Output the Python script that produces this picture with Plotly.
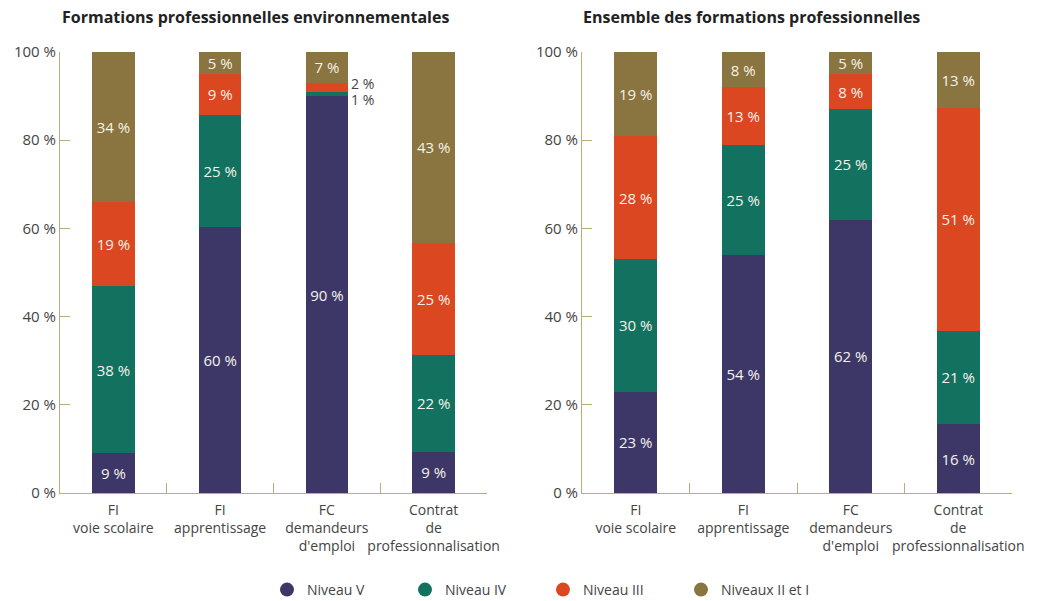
import plotly.graph_objects as go
from plotly.subplots import make_subplots

# Categories (x axis)
categories = ["FI<br>voie scolaire", "FI<br>apprentissage",
              "FC<br>demandeurs<br>d'emploi", "Contrat<br>de<br>professionnalisation"]

levels = ["Niveau V", "Niveau IV", "Niveau III", "Niveaux II et I"]
colors = ["#3d3768", "#12715f", "#db4720", "#8a743f"]

# Formations professionnelles environnementales (% per level)
env_niveau_v = [9, 60.3, 90, 9.4]
env_niveau_iv = [38, 25.4, 1, 21.9]
env_niveau_iii = [19, 9.4, 2, 25.4]
env_niveau_ii_i = [34, 4.9, 7, 43.3]

# Ensemble des formations professionnelles (% per level)
all_niveau_v = [23, 54, 62, 15.6]
all_niveau_iv = [30, 25, 25, 21.2]
all_niveau_iii = [28, 13, 8, 50.6]
all_niveau_ii_i = [19, 8, 5, 12.6]

y_ticks = [0, 20, 40, 60, 80, 100]

titles = ["Formations professionnelles environnementales",
          "Ensemble des formations professionnelles"]

axis_color = "#b8ae7c"
text_color = "#444444"
font_family = "Open Sans, Noto Sans, sans-serif"

fig = make_subplots(rows=1, cols=2)

panels = [
    [env_niveau_v, env_niveau_iv, env_niveau_iii, env_niveau_ii_i],
    [all_niveau_v, all_niveau_iv, all_niveau_iii, all_niveau_ii_i],
]

for col, series in enumerate(panels, start=1):
    for name, vals, color in zip(levels, series, colors):
        # small bands get their label outside, as annotations
        labels = [f"{v:.0f} %" if v >= 3 else "" for v in vals]
        fig.add_trace(go.Bar(
            x=categories, y=vals, name=name,
            marker=dict(color=color, line=dict(width=0)),
            width=0.4,
            text=labels, textposition="inside", insidetextanchor="middle",
            textfont=dict(color="#f5f2ea", size=15, family=font_family),
            showlegend=False, hoverinfo="skip",
        ), row=1, col=col)

# outside labels for tiny bands (FC, environnementales)
fc = 2
base_iv = env_niveau_v[fc]
fig.add_annotation(x=fc, y=base_iv + env_niveau_iv[fc] + env_niveau_iii[fc] / 2,
                   xref="x", yref="y", text=f"{env_niveau_iii[fc]:.0f} %",
                   showarrow=False, xanchor="left", xshift=22, yshift=4,
                   font=dict(size=14, color=text_color, family=font_family))
fig.add_annotation(x=fc, y=base_iv + env_niveau_iv[fc] / 2,
                   xref="x", yref="y", text=f"{env_niveau_iv[fc]:.0f} %",
                   showarrow=False, xanchor="left", xshift=22, yshift=-6,
                   font=dict(size=14, color=text_color, family=font_family))

# legend entries as circles
for name, color in zip(levels, colors):
    fig.add_trace(go.Scatter(
        x=[None], y=[None], mode="markers", name=name,
        marker=dict(color=color, size=14, symbol="circle"),
        showlegend=True,
    ), row=1, col=1)

# panel titles
for xpos, title in zip([62 / 1045, 583 / 1045], titles):
    fig.add_annotation(x=xpos, y=(601 - 17) / 601, xref="paper", yref="paper",
                       text=f"<b>{title}</b>", showarrow=False,
                       xanchor="left", yanchor="middle", xshift=-2,
                       font=dict(size=16, color="#222222", family=font_family))

fig.update_layout(
    barmode="stack",
    width=1045, height=601,
    margin=dict(l=0, r=0, t=0, b=0, autoexpand=False),
    plot_bgcolor="white", paper_bgcolor="white",
    font=dict(family=font_family, color=text_color, size=14),
    uniformtext=dict(minsize=14, mode="show"),
    legend=dict(orientation="h", x=267 / 1045, xanchor="left",
                y=(601 - 590) / 601, yanchor="middle",
                traceorder="normal",
                entrywidth=93, entrywidthmode="pixels",
                font=dict(size=14, color=text_color)),
    xaxis=dict(domain=[60 / 1045, 487 / 1045]),
    xaxis2=dict(domain=[582 / 1045, 1012 / 1045]),
    yaxis=dict(domain=[(601 - 493) / 601, (601 - 52) / 601]),
    yaxis2=dict(domain=[(601 - 493) / 601, (601 - 52) / 601]),
)

fig.update_xaxes(
    type="category", range=[-0.5, 3.5],
    showline=True, linecolor=axis_color, linewidth=1,
    ticks="inside", tickson="boundaries", ticklen=10, tickcolor=axis_color,
    showgrid=False, zeroline=False, tickangle=0, automargin=False,
    ticklabelstandoff=4,
    tickfont=dict(size=14, color=text_color),
)
fig.update_yaxes(
    range=[0, 100], tickvals=y_ticks, ticktext=[f"{t} %" for t in y_ticks],
    showline=True, linecolor=axis_color, linewidth=1,
    ticks="inside", ticklen=10, tickcolor=axis_color,
    showgrid=False, zeroline=False, automargin=False,
    tickfont=dict(size=15, color=text_color),
)

# page body has a default margin; drop it so the figure sits at the corner
fig.write_html("out.html", config={"displayModeBar": False},
               post_script="document.body.style.margin='0';")
